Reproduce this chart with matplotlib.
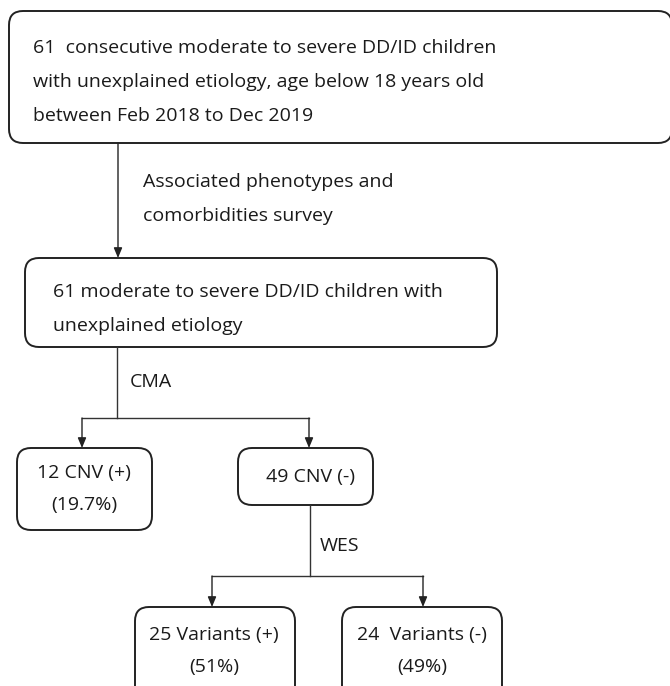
import matplotlib.pyplot as plt
from matplotlib.patches import FancyBboxPatch

# box texts
box_texts = [
    "61  consecutive moderate to severe DD/ID children\nwith unexplained etiology, age below 18 years old\nbetween Feb 2018 to Dec 2019",
    "61 moderate to severe DD/ID children with\nunexplained etiology",
    "12 CNV (+)\n(19.7%)",
    " 49 CNV (-)",
    "25 Variants (+)\n(51%)",
    "24  Variants (-)\n(49%)",
]
step_labels = ["Associated phenotypes and\ncomorbidities survey", "CMA", "WES"]

plt.rcParams['font.family'] = ['Open Sans', 'DejaVu Sans']
FS = 14
TC = '#1a1a1a'

fig = plt.figure(figsize=(6.7, 6.86), dpi=100)
ax = fig.add_axes([0, 0, 1, 1])
ax.set_xlim(0, 670)
ax.set_ylim(686, 0)
ax.axis('off')

# (x0, y0, x1, y1) in pixel-ish coords, text anchor
boxes = [
    (9, 11, 672, 143),
    (25, 258, 497, 347),
    (17, 448, 152, 530),
    (238, 448, 373, 505),
    (135, 607, 295, 705),
    (342, 607, 502, 705),
]
text_pos = [
    (33, 82, 'left'),
    (53, 309, 'left'),
    (84, 489, 'center'),
    (308, 477, 'center'),
    (214, 651, 'center'),
    (422, 651, 'center'),
]
spacing = [2.15, 2.15, 1.98, 1.98, 1.98, 1.98]

for (x0, y0, x1, y1), (tx, ty, ha), t, ls in zip(boxes, text_pos, box_texts, spacing):
    ax.add_patch(FancyBboxPatch((x0, y0), x1 - x0, y1 - y0,
                                boxstyle="round,pad=0,rounding_size=14",
                                fc='white', ec='#222222', lw=1.4))
    ax.text(tx, ty, t, ha=ha, va='center', fontsize=FS, color=TC,
            linespacing=ls)

lk = dict(color='#333333', lw=1.0)
ak = dict(arrowstyle='-|>,head_length=0.6,head_width=0.25', color='#222222', lw=1.0,
          shrinkA=0, shrinkB=0)

# box1 -> box2
ax.annotate('', xy=(118, 258), xytext=(118, 143), arrowprops=ak)
ax.text(143, 199, step_labels[0], ha='left', va='center', fontsize=FS,
        color=TC, linespacing=2.15)

# box2 -> split
ax.plot([117, 117], [347, 418], **lk)
ax.plot([82, 309], [418, 418], **lk)
ax.annotate('', xy=(82, 448), xytext=(82, 418), arrowprops=ak)
ax.annotate('', xy=(309, 448), xytext=(309, 418), arrowprops=ak)
ax.text(130, 382, step_labels[1], ha='left', va='center', fontsize=FS, color=TC)

# box4 -> split
ax.plot([310, 310], [505, 576], **lk)
ax.plot([212, 423], [576, 576], **lk)
ax.annotate('', xy=(212, 607), xytext=(212, 576), arrowprops=ak)
ax.annotate('', xy=(423, 607), xytext=(423, 576), arrowprops=ak)
ax.text(320, 546, step_labels[2], ha='left', va='center', fontsize=FS, color=TC)

fig.savefig('out.png', dpi=100, facecolor='white')
